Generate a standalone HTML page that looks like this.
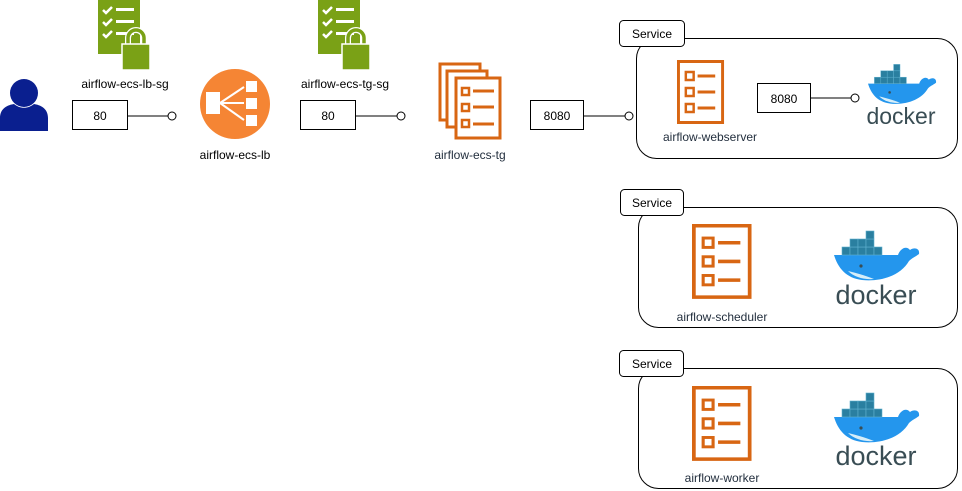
<!DOCTYPE html>
<html><head><meta charset="utf-8"><style>
html,body{margin:0;padding:0;background:#fff;}
svg{display:block;font-family:"Liberation Sans",Arial,sans-serif;}
</style></head><body>
<svg width="962" height="491" viewBox="0 0 962 491" xmlns="http://www.w3.org/2000/svg">
<defs>
  <g id="doc">
    <rect x="1.5" y="1.5" width="45" height="61" fill="none" stroke="#d86613" stroke-width="3"/>
    <rect x="9" y="12" width="8" height="8" fill="none" stroke="#d86613" stroke-width="2.5"/>
    <rect x="9" y="28" width="8" height="8" fill="none" stroke="#d86613" stroke-width="2.5"/>
    <rect x="9" y="44" width="8" height="8" fill="none" stroke="#d86613" stroke-width="2.5"/>
    <line x1="21" y1="16" x2="39" y2="16" stroke="#d86613" stroke-width="3"/>
    <line x1="21" y1="32" x2="39" y2="32" stroke="#d86613" stroke-width="3"/>
    <line x1="21" y1="48" x2="39" y2="48" stroke="#d86613" stroke-width="3"/>
  </g>
  <g id="whale">
    <path d="M0,22 H64 C66,16 72,12 76,17 C80,14 86,15 85,21 C81,24 78,25 75,28 C67,42 48,49 28,47 C12,45 4,35 0,22 Z" fill="#2496ed"/>
    <path d="M14,38 C20,44 30,47 40,46 C30,42 22,40 14,38 Z" fill="#d7eef9"/>
    <circle cx="27" cy="33" r="1.6" fill="#394d54"/>
    <g fill="#2a7fa0" stroke="#5fb0cf" stroke-width="0.6">
      <rect x="8" y="14" width="8" height="8"/><rect x="16" y="14" width="8" height="8"/><rect x="24" y="14" width="8" height="8"/><rect x="32" y="14" width="8" height="8"/><rect x="40" y="14" width="8" height="8"/>
      <rect x="16" y="6" width="8" height="8"/><rect x="24" y="6" width="8" height="8"/><rect x="32" y="6" width="8" height="8"/>
      <rect x="32" y="-2" width="8" height="8"/>
    </g>
  </g>
  <g id="sg">
    <path d="M0,0 H42 V54 H0 Z" fill="#7aa116"/>
    <g stroke="#fff" stroke-width="2.5" fill="none">
      <path d="M5,10 l3,3 l6,-6"/><path d="M5,22 l3,3 l6,-6"/><path d="M5,34 l3,3 l6,-6"/>
    </g>
    <g fill="#fff"><rect x="18" y="8" width="18" height="3"/><rect x="18" y="20" width="18" height="3"/><rect x="18" y="32" width="18" height="3"/></g>
    <path d="M30,44 v-6 a8,8 0 0 1 16,0 v6" fill="none" stroke="#fff" stroke-width="6"/>
    <path d="M30,44 v-6 a8,8 0 0 1 16,0 v6" fill="none" stroke="#7aa116" stroke-width="3.5"/>
    <rect x="24" y="44" width="28" height="26" fill="#7aa116" stroke="#fff" stroke-width="1.5"/>
  </g>
</defs>

<!-- person -->
<circle cx="24" cy="93" r="14" fill="#0a1f8f"/>
<path d="M0,131 V118 C0,108 8,105 14,104 C20,109 28,109 34,104 C40,105 48,108 48,118 V131 Z" fill="#0a1f8f"/>

<!-- lb sg -->
<use href="#sg" x="98" y="0"/>
<text x="125" y="88" font-size="12" text-anchor="middle" fill="#000">airflow-ecs-lb-sg</text>
<rect x="72.5" y="100.5" width="55" height="29" fill="#fff" stroke="#000"/>
<text x="100" y="120" font-size="12" text-anchor="middle">80</text>
<line x1="128" y1="116" x2="168" y2="116" stroke="#000"/>
<circle cx="172" cy="116" r="4" fill="#fff" stroke="#000"/>

<!-- LB -->
<circle cx="235" cy="104" r="35" fill="#f58534"/>
<rect x="206" y="92" width="14" height="22" fill="#fff"/>
<rect x="246" y="81" width="11" height="11" fill="#fff"/>
<rect x="246" y="98" width="11" height="11" fill="#fff"/>
<rect x="246" y="115" width="11" height="11" fill="#fff"/>
<g stroke="#fff" stroke-width="2"><line x1="220" y1="103" x2="244" y2="87"/><line x1="220" y1="103" x2="244" y2="103"/><line x1="220" y1="103" x2="244" y2="120"/></g>
<text x="235" y="159" font-size="12" text-anchor="middle">airflow-ecs-lb</text>

<!-- tg sg -->
<use href="#sg" x="318" y="0"/>
<text x="345" y="88" font-size="12" text-anchor="middle">airflow-ecs-tg-sg</text>
<rect x="300.5" y="100.5" width="55" height="29" fill="#fff" stroke="#000"/>
<text x="328" y="120" font-size="12" text-anchor="middle">80</text>
<line x1="356" y1="116" x2="397" y2="116" stroke="#000"/>
<circle cx="401" cy="116" r="4" fill="#fff" stroke="#000"/>

<!-- tg -->
<rect x="440" y="64" width="40" height="56" fill="#fff" stroke="#d86613" stroke-width="3"/>
<rect x="447" y="71" width="40" height="56" fill="#fff" stroke="#d86613" stroke-width="3"/>
<rect x="456" y="78" width="44" height="60" fill="#fff" stroke="#d86613" stroke-width="3"/>
<g stroke="#d86613" stroke-width="2.5" fill="none"><rect x="462" y="88" width="7" height="7"/><rect x="462" y="104" width="7" height="7"/><rect x="462" y="120" width="7" height="7"/></g>
<g stroke="#d86613" stroke-width="3"><line x1="473" y1="91" x2="494" y2="91"/><line x1="473" y1="107" x2="494" y2="107"/><line x1="473" y1="124" x2="494" y2="124"/></g>
<text x="470" y="159" font-size="12" text-anchor="middle" fill="#232f3e">airflow-ecs-tg</text>

<rect x="530.5" y="100.5" width="53" height="29" fill="#fff" stroke="#000"/>
<text x="557" y="120" font-size="12" text-anchor="middle">8080</text>
<line x1="584" y1="116" x2="625" y2="116" stroke="#000"/>
<circle cx="629" cy="116" r="4" fill="#fff" stroke="#000"/>

<!-- Service 1 -->
<rect x="636.5" y="38.5" width="321" height="120" rx="20" fill="none" stroke="#000"/>
<rect x="619.5" y="20.5" width="65" height="26" rx="4" fill="#fff" stroke="#000"/>
<text x="652" y="38" font-size="12" text-anchor="middle">Service</text>
<use href="#doc" x="677" y="60" transform="translate(677 60) scale(0.98 1) translate(-677 -60)"/>
<text x="710" y="141" font-size="12" text-anchor="middle" fill="#232f3e">airflow-webserver</text>
<rect x="757.5" y="83.5" width="53" height="29" fill="#fff" stroke="#000"/>
<text x="784" y="103" font-size="12" text-anchor="middle">8080</text>
<line x1="811" y1="98" x2="851" y2="98" stroke="#000"/>
<circle cx="855" cy="98" r="4" fill="#fff" stroke="#000"/>
<use href="#whale" transform="translate(868 66) scale(0.8)"/>
<text x="901" y="124" font-size="23" text-anchor="middle" fill="#394d54">docker</text>

<!-- Service 2 -->
<rect x="638.5" y="207.5" width="319" height="120" rx="20" fill="none" stroke="#000"/>
<rect x="620.5" y="189.5" width="63" height="26" rx="4" fill="#fff" stroke="#000"/>
<text x="652" y="207" font-size="12" text-anchor="middle">Service</text>
<use href="#doc" transform="translate(692 224) scale(1.24 1.17)"/>
<text x="722" y="321" font-size="12" text-anchor="middle" fill="#232f3e">airflow-scheduler</text>
<use href="#whale" transform="translate(834 233)"/>
<text x="876" y="304" font-size="27" text-anchor="middle" fill="#394d54">docker</text>

<!-- Service 3 -->
<rect x="638.5" y="368.5" width="319" height="120" rx="20" fill="none" stroke="#000"/>
<rect x="619.5" y="350.5" width="64" height="26" rx="4" fill="#fff" stroke="#000"/>
<text x="652" y="368" font-size="12" text-anchor="middle">Service</text>
<use href="#doc" transform="translate(692 386) scale(1.24 1.17)"/>
<text x="722" y="482" font-size="12" text-anchor="middle" fill="#232f3e">airflow-worker</text>
<use href="#whale" transform="translate(834 395)"/>
<text x="876" y="465" font-size="27" text-anchor="middle" fill="#394d54">docker</text>
</svg>
</body></html>
